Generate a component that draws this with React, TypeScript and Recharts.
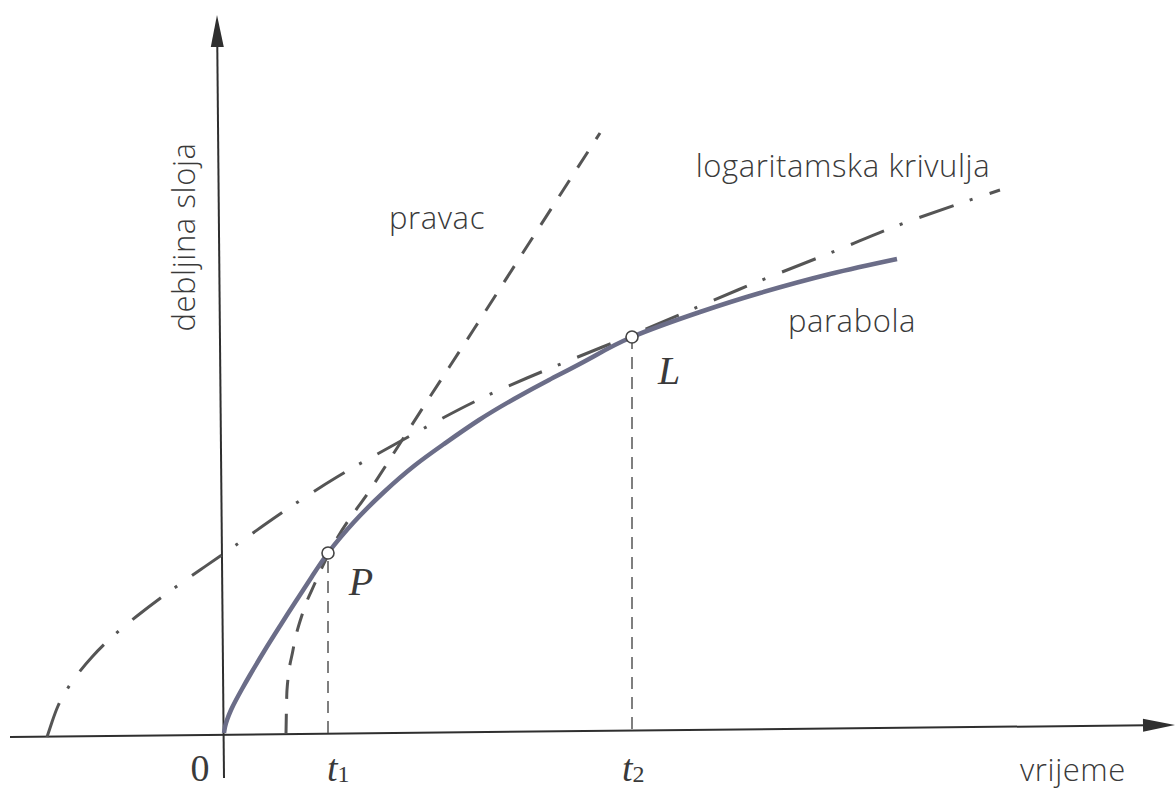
import React from 'react';
import { ComposedChart, Line, XAxis, YAxis, ReferenceLine, ReferenceDot } from 'recharts';

// t = vrijeme, d = debljina sloja (arbitrary units)
const parabola = [
    { t: 0, d: 0 },
    { t: 0.01, d: 0.06 },
    { t: 0.03, d: 0.13 },
    { t: 0.07, d: 0.23 },
    { t: 0.12, d: 0.33 },
    { t: 0.18, d: 0.44 },
    { t: 0.26, d: 0.58 },
    { t: 0.4, d: 0.815 },
    { t: 0.56, d: 1.07 },
    { t: 0.72, d: 1.32 },
    { t: 0.88, d: 1.565 },
    { t: 1.04, d: 1.8 },
    { t: 1.3, d: 2.11 },
    { t: 1.6, d: 2.41 },
    { t: 1.9, d: 2.67 },
    { t: 2.2, d: 2.89 },
    { t: 2.55, d: 3.13 },
    { t: 2.9, d: 3.34 },
    { t: 3.25, d: 3.53 },
    { t: 3.65, d: 3.74 },
    { t: 4.08, d: 3.96 },
    { t: 4.76, d: 4.21 },
    { t: 5.36, d: 4.4 },
    { t: 6.06, d: 4.59 },
    { t: 6.73, d: 4.74 },
];

const pravac = [
    { t: 0.62, d: 0 },
    { t: 0.63, d: 0.43 },
    { t: 0.69, d: 0.83 },
    { t: 0.79, d: 1.21 },
    { t: 0.91, d: 1.5 },
    { t: 1.04, d: 1.78 },
    { t: 1.5, d: 2.49 },
    { t: 2.0, d: 3.27 },
    { t: 2.5, d: 4.04 },
    { t: 3.0, d: 4.82 },
    { t: 3.76, d: 6.0 },
];

const logCurve = [
    { t: -1.77, d: -0.04 },
    { t: -1.72, d: 0.11 },
    { t: -1.66, d: 0.27 },
    { t: -1.58, d: 0.42 },
    { t: -1.47, d: 0.58 },
    { t: -1.32, d: 0.76 },
    { t: -1.12, d: 0.96 },
    { t: -0.87, d: 1.17 },
    { t: -0.58, d: 1.39 },
    { t: -0.24, d: 1.63 },
    { t: 0.12, d: 1.88 },
    { t: 0.59, d: 2.21 },
    { t: 1.13, d: 2.56 },
    { t: 1.66, d: 2.86 },
    { t: 2.36, d: 3.24 },
    { t: 3.03, d: 3.55 },
    { t: 3.76, d: 3.85 },
    { t: 4.08, d: 3.98 },
    { t: 4.76, d: 4.27 },
    { t: 5.43, d: 4.55 },
    { t: 6.16, d: 4.84 },
    { t: 6.83, d: 5.11 },
    { t: 7.76, d: 5.43 },
];

const marked = [
    { name: 'P', t: 1.04, d: 1.8 },
    { name: 'L', t: 4.08, d: 3.96 },
];

const xAxisEnds = [
    { t: -2.14, d: -0.04 },
    { t: 9.51, d: 0.08 },
];
const yAxisEnds = [
    { t: 0.0, d: -0.45 },
    { t: -0.07, d: 7.18 },
];

const INK = '#2f2f2f';
const DASH = '#555555';
const CURVE = '#6b6d88';
const SANS = '"Open Sans", sans-serif';
const SERIF = '"Liberation Serif", serif';

const arrowShape = (props: any) => {
    const { x1, y1, x2, y2 } = props;
    const len = Math.hypot(x2 - x1, y2 - y1);
    const ux = (x2 - x1) / len;
    const uy = (y2 - y1) / len;
    const head = 32;
    const half = 6.5;
    const bx = x2 - ux * head;
    const by = y2 - uy * head;
    const pts = [
        [x2, y2],
        [bx - uy * half, by + ux * half],
        [bx + uy * half, by - ux * half],
    ]
        .map((p) => p.join(','))
        .join(' ');
    return (
        <g>
            <line x1={x1} y1={y1} x2={bx + ux * 4} y2={by + uy * 4} stroke={INK} strokeWidth={2} />
            <polygon points={pts} fill={INK} />
        </g>
    );
};

const textShape = (content: React.ReactNode, style: any, rotate = 0) => (props: any) => {
    const { cx, cy } = props;
    return (
        <text
            x={cx}
            y={cy}
            dominantBaseline="central"
            textAnchor={style.anchor || 'middle'}
            fill="#3a3a3a"
            fontFamily={style.family}
            fontSize={style.size}
            fontStyle={style.italic ? 'italic' : 'normal'}
            fontWeight={style.weight || 400}
            letterSpacing={style.spacing || 0}
            transform={rotate ? `rotate(${rotate} ${cx} ${cy})` : undefined}
        >
            {content}
        </text>
    );
};

const sansLabel = { family: SANS, size: 31, weight: 300, spacing: 0.6 };
const serifItalic = { family: SERIF, size: 40, italic: true };
const tickLabel = { family: SERIF, size: 38, italic: true, anchor: 'start' };

const App = () => {
    const [P, L] = marked;
    return (
        <div style={{ position: 'absolute', left: 0, top: 0, width: 1176, height: 789, background: '#fff' }}>
            <ComposedChart width={1176} height={789} margin={{ top: 0, right: 0, bottom: 0, left: 0 }}>
                <XAxis type="number" dataKey="t" domain={[-2.24, 9.52]} allowDataOverflow hide />
                <YAxis type="number" dataKey="d" domain={[-0.56, 7.33]} allowDataOverflow hide />

                <ReferenceLine
                    segment={[
                        { x: xAxisEnds[0].t, y: xAxisEnds[0].d },
                        { x: xAxisEnds[1].t, y: xAxisEnds[1].d },
                    ]}
                    ifOverflow="visible"
                    shape={arrowShape}
                />
                <ReferenceLine
                    segment={[
                        { x: yAxisEnds[0].t, y: yAxisEnds[0].d },
                        { x: yAxisEnds[1].t, y: yAxisEnds[1].d },
                    ]}
                    ifOverflow="visible"
                    shape={arrowShape}
                />
                <ReferenceLine
                    segment={[
                        { x: P.t, y: 0 },
                        { x: P.t, y: P.d },
                    ]}
                    stroke={DASH}
                    strokeWidth={1.5}
                    strokeDasharray="12 8"
                    ifOverflow="visible"
                />
                <ReferenceLine
                    segment={[
                        { x: L.t, y: 0.04 },
                        { x: L.t, y: L.d },
                    ]}
                    stroke={DASH}
                    strokeWidth={1.5}
                    strokeDasharray="12 8"
                    ifOverflow="visible"
                />

                <Line
                    data={logCurve}
                    dataKey="d"
                    type="natural"
                    stroke={DASH}
                    strokeWidth={3}
                    strokeDasharray="36 17 3 18"
                    dot={false}
                    activeDot={false}
                    isAnimationActive={false}
                />
                <Line
                    data={pravac}
                    dataKey="d"
                    type="monotone"
                    stroke={DASH}
                    strokeWidth={3}
                    strokeDasharray="19 15"
                    dot={false}
                    activeDot={false}
                    isAnimationActive={false}
                />
                <Line
                    data={parabola}
                    dataKey="d"
                    type="natural"
                    stroke={CURVE}
                    strokeWidth={4.5}
                    dot={false}
                    activeDot={false}
                    isAnimationActive={false}
                />
                <Line
                    data={marked}
                    dataKey="d"
                    stroke="none"
                    dot={{ r: 6, fill: '#fff', stroke: '#444', strokeWidth: 1.6 }}
                    activeDot={false}
                    isAnimationActive={false}
                />

                <ReferenceDot x={-0.41} y={4.96} r={0} shape={textShape('debljina sloja', sansLabel, -90)} />
                <ReferenceDot x={2.13} y={5.16} r={0} shape={textShape('pravac', sansLabel)} />
                <ReferenceDot x={6.19} y={5.68} r={0} shape={textShape('logaritamska krivulja', sansLabel)} />
                <ReferenceDot x={6.28} y={4.13} r={0} shape={textShape('parabola', sansLabel)} />
                <ReferenceDot x={4.45} y={3.63} r={0} shape={textShape(L.name, serifItalic)} />
                <ReferenceDot x={1.37} y={1.52} r={0} shape={textShape(P.name, serifItalic)} />
                <ReferenceDot x={-0.24} y={-0.35} r={0} shape={textShape('0', { family: SERIF, size: 38 })} />
                <ReferenceDot
                    x={1.03}
                    y={-0.35}
                    r={0}
                    shape={textShape(
                        <>
                            <tspan>t</tspan>
                            <tspan fontStyle="normal" fontSize={24} dy={6}>1</tspan>
                        </>,
                        tickLabel
                    )}
                />
                <ReferenceDot
                    x={3.98}
                    y={-0.35}
                    r={0}
                    shape={textShape(
                        <>
                            <tspan>t</tspan>
                            <tspan fontStyle="normal" fontSize={24} dy={6}>2</tspan>
                        </>,
                        tickLabel
                    )}
                />
                <ReferenceDot x={8.49} y={-0.36} r={0} shape={textShape('vrijeme', sansLabel)} />
            </ComposedChart>
        </div>
    );
};

export default App;
